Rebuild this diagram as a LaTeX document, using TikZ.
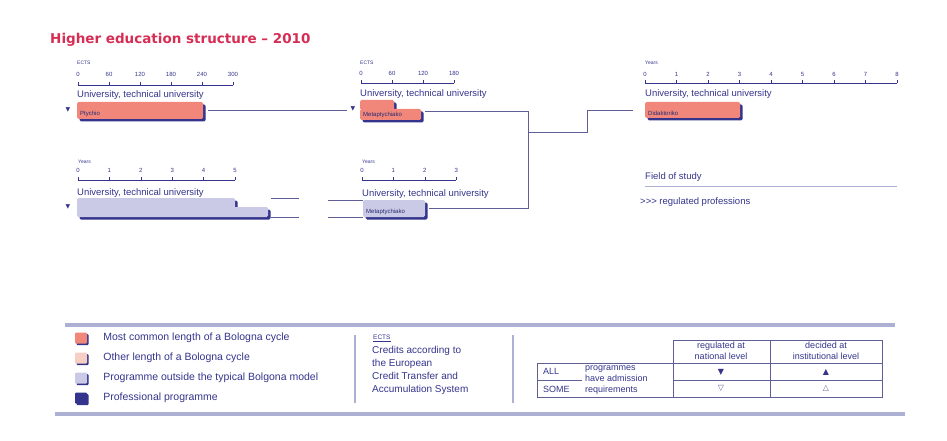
\documentclass[tikz,border=0pt]{standalone}
\usepackage{fontspec}
\setmainfont{Liberation Sans}
\newfontfamily\titlefont{DejaVu Sans}
\newfontfamily\symfont{DejaVu Sans}
\usetikzlibrary{positioning,shadows}

\definecolor{hered}{RGB}{214,45,85}
\definecolor{navy}{RGB}{52,52,140}
\definecolor{salmon}{RGB}{240,135,122}
\definecolor{peach}{RGB}{246,206,196}
\definecolor{lilac}{RGB}{202,202,230}
\definecolor{band}{RGB}{172,176,210}
\definecolor{wire}{RGB}{95,95,150}

\begin{document}
\begin{tikzpicture}[x=1pt, y=-1pt,
  title/.style={font=\titlefont\bfseries\fontsize{13.5}{15}\selectfont, text=hered, inner sep=0pt, anchor=west},
  unit/.style={font=\fontsize{5}{6}\selectfont, text=navy, inner sep=0pt, anchor=west},
  tick/.style={font=\fontsize{6}{7}\selectfont, text=navy, inner sep=0pt},
  small/.style={font=\fontsize{9.5}{10}\selectfont, text=navy, inner sep=0pt, anchor=west},
  axis/.style={draw=navy, line width=0.5pt},
  bar/.style={anchor=north west, inner sep=0pt, outer sep=0pt, rounded corners=1.5pt,
              fill=salmon, drop shadow={shadow xshift=2.5pt, shadow yshift=-2.5pt,
              fill=navy, opacity=1}},
  barlbl/.style={font=\fontsize{6}{7}\selectfont, text=navy!80!black, inner sep=0pt, anchor=south west},
  tri/.style={font=\symfont\fontsize{6}{7}\selectfont, text=navy, inner sep=0pt},
  wire/.style={draw=wire, line width=0.6pt},
  bandline/.style={draw=band, line width=3.5pt},
  key/.style={minimum width=12pt, minimum height=11pt, inner sep=0pt, rounded corners=1pt,
              drop shadow={shadow xshift=1.5pt, shadow yshift=-1.5pt, fill=navy, opacity=1}},
  legtxt/.style={font=\fontsize{10.5}{12}\selectfont, text=navy, inner sep=0pt, anchor=west},
  tbl/.style={font=\fontsize{9}{11.5}\selectfont, text=navy, inner sep=0pt},
  grid/.style={draw=wire, line width=0.6pt}
]
\useasboundingbox (0,0) rectangle (947,441);

\node[title] (title) at (50,40) {Higher education structure – 2010};

% first cycle, ECTS
\node[unit] (ects1) at (77,63) {ECTS};
\draw[axis] (78,85) -- (233,85);
\foreach \v [count=\i from 0] in {0,60,120,180,240,300} {
  \draw[axis] (78+31*\i,85) -- ++(0,-3);
  \node[tick] (ta-\i) at (78+31*\i,74) {\v};
}
\node[small] (uni1) at (77,95) {University, technical university};
\node[tri] (tri1) at (68,110) {▼};
\node[bar, minimum width=126pt, minimum height=17pt] (ptychio) at (77,102) {};
\node[barlbl] (ptychio-l) at ([xshift=3pt, yshift=2pt]ptychio.south west) {Ptychio};

% second cycle, ECTS
\node[unit] (ects2) at (360,63) {ECTS};
\draw[axis] (361,83) -- (454,83);
\foreach \v [count=\i from 0] in {0,60,120,180} {
  \draw[axis] (361+31*\i,83) -- ++(0,-3);
  \node[tick] (tb-\i) at (361+31*\i,73) {\v};
}
\node[small] (uni2) at (360,94) {University, technical university};
\node[tri] (tri2) at (353,109) {▼};
\node[bar, minimum width=34pt, minimum height=10pt] (m1top) at (360,100) {};
\node[bar, minimum width=61pt, minimum height=11pt] (m1) at (360,109) {};
\node[barlbl] (m1-l) at ([xshift=3pt, yshift=2pt]m1.south west) {Metaptychiako};
\draw[wire, shorten <=5pt, shorten >=3pt] (ptychio.east) -- (ptychio.east -| tri2.west);

% third cycle, years
\node[unit] (years3) at (645,63) {Years};
\draw[axis] (645,83) -- (897,83);
\foreach \i in {0,...,8} {
  \draw[axis] (645+31.5*\i,83) -- ++(0,-3);
  \node[tick] (tc-\i) at (645+31.5*\i,74) {\i};
}
\node[small] (uni3) at (645,94) {University, technical university};
\node[bar, minimum width=95pt, minimum height=16pt] (doc) at (645,102) {};
\node[barlbl] (doc-l) at ([xshift=3pt, yshift=2pt]doc.south west) {Didaktoriko};

\node[small] (field) at (645,177) {Field of study};
\draw[draw=band, line width=1.5pt] ([yshift=-5pt]field.south west) -- ++(252,0);
\node[small] (regprof) at (640,202) {{>}{>}{>} regulated professions};

% long programme, years
\node[unit] (years4) at (78,162) {Years};
\draw[axis] (78,180) -- (235,180);
\foreach \i in {0,...,5} {
  \draw[axis] (78+31.4*\i,180) -- ++(0,-3);
  \node[tick] (td-\i) at (78+31.4*\i,170) {\i};
}
\node[small] (uni4) at (77,193) {University, technical university};
\node[tri] (tri4) at (68,207) {▼};
\node[bar, fill=lilac, minimum width=158pt, minimum height=11pt] (long1) at (77,198) {};
\node[bar, fill=lilac, minimum width=191pt, minimum height=10pt] (long2) at (77,207) {};

% second cycle, years
\node[unit] (years5) at (362,162) {Years};
\draw[axis] (362,180) -- (456,180);
\foreach \i in {0,...,3} {
  \draw[axis] (362+31.4*\i,180) -- ++(0,-3);
  \node[tick] (te-\i) at (362+31.4*\i,170) {\i};
}
\node[small] (uni5) at (362,194) {University, technical university};
\node[bar, fill=lilac, minimum width=62pt, minimum height=17pt] (m2) at (363,200) {};
\node[barlbl] (m2-l) at ([xshift=3pt, yshift=2pt]m2.south west) {Metaptychiako};

\draw[wire] (long2.east |- long1.north) ++(3,0) -- ++(28,0);
\draw[wire] (long2.south east) ++(3,0) -- ++(28,0);
\draw[wire] (m2.north west) ++(-35,0) -- (m2.north west);
\draw[wire] (m2.south west) ++(-35,0) -- (m2.south west);

% into the doctorate
\coordinate (join) at (528,132);
\coordinate (bend) at (587,132);
\draw[wire, shorten <=4pt] ([yshift=3pt]m1.east) -| (join);
\draw[wire, shorten <=4pt] (m2.east) -| (join);
\draw[wire, shorten >=12pt] (join) -- (bend) |- (doc.west);

% legend
\draw[bandline] (65,325) -- (895,325);
\draw[bandline] (55,414) -- (905,414);
\node[key, fill=salmon] (k1) at (81,338) {};
\node[key, fill=peach] (k2) at (81,358) {};
\node[key, fill=lilac] (k3) at (81,378) {};
\node[key, fill=navy] (k4) at (81,398) {};
\node[legtxt, right=16pt of k1] (k1-t) {Most common length of a Bologna cycle};
\node[legtxt, right=16pt of k2] (k2-t) {Other length of a Bologna cycle};
\node[legtxt, right=16pt of k3] (k3-t) {Programme outside the typical Bolgona model};
\node[legtxt, right=16pt of k4] (k4-t) {Professional programme};

\draw[draw=band, line width=1.2pt] (355,335) -- (355,403);
\draw[draw=band, line width=1.2pt] (513,335) -- (513,403);
\node[unit, font=\fontsize{6.5}{7}\selectfont] (ects-h) at (373,338) {\underline{ECTS}};
\node[legtxt, anchor=north west, align=left, font=\fontsize{10}{13}\selectfont]
  (ects-d) at (372,346) {Credits according to\\the European\\Credit Transfer and\\Accumulation System};

% admission table
\draw[grid] (673,340) rectangle (882,363);
\draw[grid] (537,363) rectangle (882,397);
\draw[grid] (770,340) -- (770,397);
\draw[grid] (673,363) -- (673,397);
\draw[grid] (537,380) -- (582,380);
\draw[grid] (673,380) -- (882,380);
\node[tbl, align=center] (nat) at (721,351) {regulated at\\national level};
\node[tbl, align=center] (inst) at (826,351) {decided at\\institutional level};
\node[tbl, anchor=west] (all) at (543,371) {ALL};
\node[tbl, anchor=west] (some) at (543,389) {SOME};
\node[tbl, anchor=west, align=left, font=\fontsize{9}{11}\selectfont] (prog) at (585,380) {programmes\\have admission\\requirements};
\node[tri, font=\symfont\fontsize{8}{9}\selectfont] (s1) at (721,372) {▼};
\node[tri, font=\symfont\fontsize{8}{9}\selectfont] (s2) at (826,372) {▲};
\node[tri, font=\symfont\fontsize{8}{9}\selectfont, text=wire] (s3) at (721,388) {▽};
\node[tri, font=\symfont\fontsize{8}{9}\selectfont, text=wire] (s4) at (826,388) {△};
\end{tikzpicture}
\end{document}
